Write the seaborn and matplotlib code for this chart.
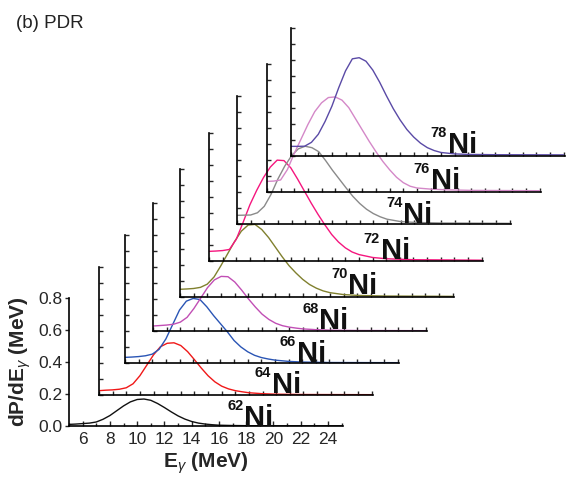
import numpy as np
import pandas as pd
import matplotlib
matplotlib.use("Agg")
import matplotlib.pyplot as plt
import seaborn as sns

sns.set_style("ticks")
plt.rcParams["font.family"] = ["Liberation Sans", "DejaVu Sans"]
plt.rcParams["mathtext.fontset"] = "custom"
plt.rcParams["mathtext.rm"] = "Liberation Sans"
plt.rcParams["mathtext.it"] = "Liberation Sans:italic"
plt.rcParams["mathtext.bf"] = "Liberation Sans:bold"

# ---------------- data ----------------
energy = [5, 5.5, 6, 6.5, 7, 7.5, 8, 8.5, 9, 9.5, 10, 10.5, 11, 11.5, 12, 12.5,
          13, 13.5, 14, 14.5, 15, 15.5, 16, 17, 18, 20, 25]

ni62 = [0.010, 0.012, 0.015, 0.018, 0.025, 0.042, 0.065, 0.095, 0.125, 0.150, 0.165, 0.168,
        0.160, 0.140, 0.115, 0.088, 0.063, 0.043, 0.028, 0.018, 0.012, 0.008, 0.005, 0.003,
        0.002, 0.001, 0.001]
ni64 = [0.027, 0.030, 0.032, 0.036, 0.045, 0.070, 0.120, 0.185, 0.250, 0.300, 0.322, 0.325,
        0.308, 0.270, 0.220, 0.168, 0.120, 0.082, 0.055, 0.038, 0.027, 0.020, 0.014, 0.008,
        0.005, 0.003, 0.002]
ni66 = [0.035, 0.037, 0.040, 0.045, 0.055, 0.085, 0.150, 0.240, 0.330, 0.385, 0.402, 0.395,
        0.350, 0.295, 0.245, 0.195, 0.140, 0.100, 0.070, 0.048, 0.034, 0.025, 0.018, 0.010,
        0.006, 0.003, 0.002]
ni68 = [0.031, 0.034, 0.037, 0.042, 0.055, 0.085, 0.140, 0.205, 0.270, 0.318, 0.340, 0.338,
        0.305, 0.255, 0.200, 0.150, 0.105, 0.072, 0.048, 0.033, 0.024, 0.018, 0.013, 0.008,
        0.005, 0.003, 0.002]
ni70 = [0.048, 0.050, 0.053, 0.060, 0.080, 0.125, 0.195, 0.270, 0.345, 0.410, 0.448, 0.452,
        0.420, 0.370, 0.310, 0.250, 0.195, 0.150, 0.110, 0.078, 0.055, 0.038, 0.027, 0.015,
        0.010, 0.006, 0.004]
ni72 = [0.060, 0.062, 0.065, 0.072, 0.135, 0.240, 0.350, 0.440, 0.520, 0.585, 0.628, 0.625,
        0.580, 0.510, 0.435, 0.360, 0.290, 0.225, 0.165, 0.118, 0.082, 0.056, 0.040, 0.022,
        0.014, 0.008, 0.005]
ni74 = [0.054, 0.055, 0.056, 0.070, 0.110, 0.185, 0.280, 0.360, 0.425, 0.468, 0.484, 0.475,
        0.450, 0.395, 0.335, 0.280, 0.225, 0.172, 0.128, 0.092, 0.065, 0.045, 0.030, 0.015,
        0.010, 0.006, 0.004]
ni76 = [0.066, 0.068, 0.075, 0.140, 0.240, 0.330, 0.420, 0.500, 0.555, 0.588, 0.592, 0.572,
        0.525, 0.455, 0.385, 0.315, 0.250, 0.190, 0.138, 0.092, 0.058, 0.036, 0.025, 0.018,
        0.014, 0.010, 0.008]
ni78 = [0.060, 0.060, 0.061, 0.085, 0.135, 0.215, 0.310, 0.425, 0.530, 0.605, 0.612, 0.590,
        0.535, 0.460, 0.375, 0.295, 0.225, 0.165, 0.118, 0.080, 0.052, 0.034, 0.022, 0.013,
        0.010, 0.008, 0.007]

isotopes = ["62", "64", "66", "68", "70", "72", "74", "76", "78"]
series = [ni62, ni64, ni66, ni68, ni70, ni72, ni74, ni76, ni78]
colors = ["#111111", "#f01818", "#2a55b5", "#c14fb5", "#80802e", "#f5167e",
          "#8a8a8a", "#d488c8", "#5a4aa6"]

x_ticklabels = ["6", "8", "10", "12", "14", "16", "18", "20", "22", "24"]
y_ticklabels = ["0.0", "0.2", "0.4", "0.6", "0.8"]

# ---------------- layout (pixels) ----------------
W, H = 568, 480
ax_left_px = [69, 99, 125, 153, 180, 209, 237, 267, 291]
ax_bottom_px = [426, 395, 363, 331, 297, 261, 224, 192, 156]
ax_w_px, ax_h_px = 274, 128.5
label_x = [17.84, 17.67, 17.6, 17.2, 17.35, 17.6, 17.2, 17.0, 16.5]
label_y = [0.002, 0.014, 0.004, 0.01, 0.02, 0.012, 0.008, 0.02, 0.017]

fig = plt.figure(figsize=(W / 100, H / 100), dpi=100)

df = pd.DataFrame({"E": energy})
for iso, s in zip(isotopes, series):
    df[iso] = s

for i, iso in enumerate(isotopes):
    rect = [ax_left_px[i] / W, (H - ax_bottom_px[i]) / H, ax_w_px / W, ax_h_px / H]
    ax = fig.add_axes(rect)
    ax.set_facecolor("none")
    sns.lineplot(data=df, x="E", y=iso, ax=ax, color=colors[i], linewidth=1.0)
    ax.set_xlim(5, 25.1)
    ax.set_ylim(0, 0.8)
    for sp in ["top", "right"]:
        ax.spines[sp].set_visible(False)
    for sp in ["left", "bottom"]:
        ax.spines[sp].set_linewidth(1.2)
        ax.spines[sp].set_color("black")
    ax.set_xlabel("")
    ax.set_ylabel("")
    ax.set_xticks(np.arange(5, 26, 1))
    ax.set_yticks(np.arange(0, 0.81, 0.1))
    if i == 0:
        ax.set_xticks(np.arange(6, 25, 2))
        ax.set_xticklabels(x_ticklabels)
        ax.set_xticks(np.arange(5, 26, 1), minor=True)
        ax.set_yticks(np.arange(0, 0.81, 0.2))
        ax.set_yticklabels(y_ticklabels)
        ax.tick_params(axis="x", direction="in", length=3.5, width=1, labelsize=12.5, pad=4)
        ax.tick_params(axis="x", which="minor", direction="in", length=2.5, width=1)
        ax.tick_params(axis="y", direction="out", length=3, width=1, labelsize=12.5, pad=1.5)
        ax.set_xlabel(r"E$_{\gamma}$ (MeV)", fontsize=15, fontweight="bold", labelpad=3)
        ax.set_ylabel(r"dP/dE$_{\gamma}$ (MeV)", fontsize=15, fontweight="bold", labelpad=4)
    else:
        ax.tick_params(axis="both", direction="in", length=3, width=1,
                       labelbottom=False, labelleft=False)
    ax.text(label_x[i], label_y[i], "Ni", fontsize=21, fontweight="bold",
            ha="left", va="baseline", color="#111111")
    ax.annotate(iso, xy=(label_x[i], label_y[i]), xytext=(-0.5, 11.5),
                textcoords="offset points", fontsize=10.5, fontweight="bold",
                ha="right", va="baseline", color="#111111")

fig.text(16 / W, 1 - 28 / H, "(b) PDR", fontsize=13.5, ha="left", va="baseline",
         color="#222222")

fig.savefig("out.png", dpi=100)
